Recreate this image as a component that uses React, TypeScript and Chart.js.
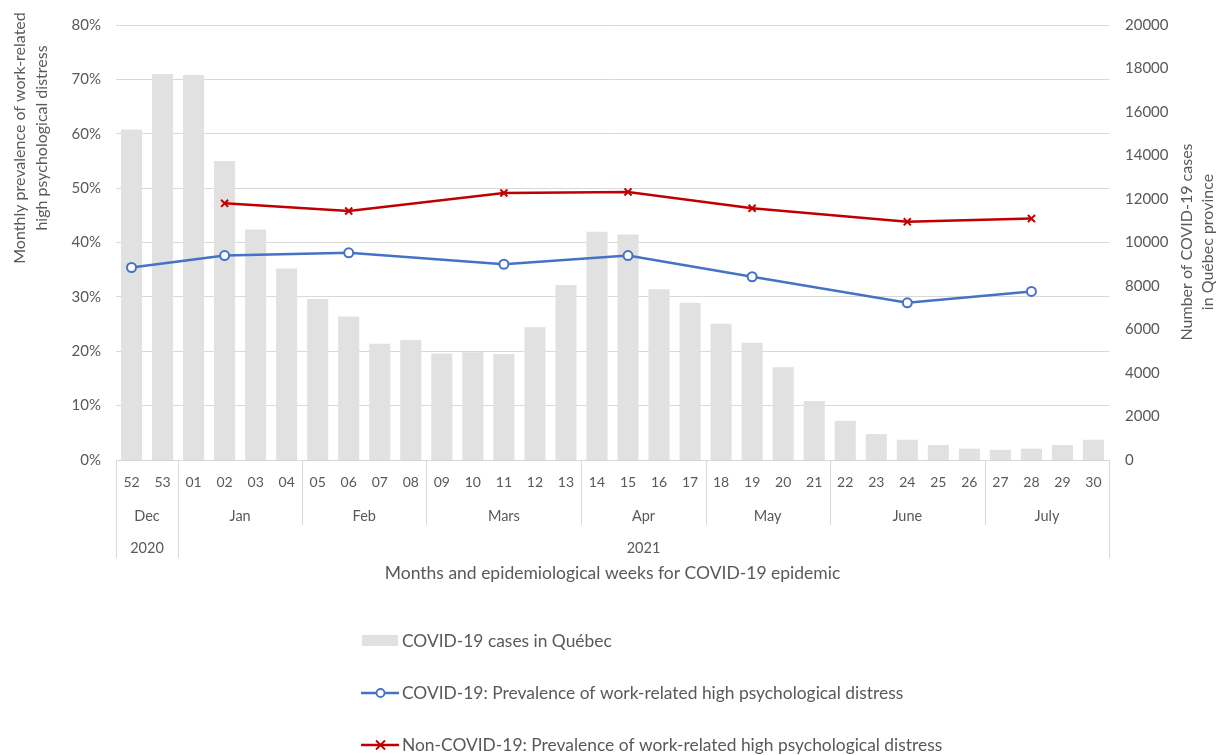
import React, { useEffect, useRef } from 'react';
import { Chart, registerables } from 'chart.js';

Chart.register(...registerables);

// ---------- data ----------
const weekLabels = ['52', '53', '01', '02', '03', '04', '05', '06', '07', '08', '09', '10', '11', '12', '13', '14', '15', '16', '17', '18', '19', '20', '21', '22', '23', '24', '25', '26', '27', '28', '29', '30'];
const monthLabels = ['Dec', 'Jan', 'Feb', 'Mars', 'Apr', 'May', 'June', 'July'];
const monthSpans = [2, 4, 4, 5, 4, 4, 5, 4];
const yearLabels = ['2020', '2021'];
const yearSpans = [2, 30];

const covidCases = [15200, 17750, 17700, 13750, 10600, 8800, 7400, 6600, 5350, 5520, 4900, 4950, 4870, 6100, 8050, 10500, 10370, 7850, 7230, 6270, 5390, 4260, 2710, 1800, 1190, 930, 690, 520, 470, 520, 690, 930];

const covidPrevalence = [35.4, null, null, 37.6, null, null, null, 38.1, null, null, null, null, 36.0, null, null, null, 37.6, null, null, null, 33.7, null, null, null, null, 28.9, null, null, null, 31.0, null, null];
const nonCovidPrevalence = [null, null, null, 47.2, null, null, null, 45.8, null, null, null, null, 49.1, null, null, null, 49.3, null, null, null, 46.3, null, null, null, null, 43.8, null, null, null, 44.4, null, null];

const leftTicksMax = 80;
const rightTicksMax = 20000;

const seriesNames = ['COVID-19 cases in Québec', 'COVID-19: Prevalence of work-related high psychological distress', 'Non-COVID-19: Prevalence of work-related high psychological distress'];
const leftTitle = ['Monthly prevalence of work-related', 'high psychological distress'];
const rightTitle = ['Number of COVID-19 cases', 'in Québec province'];
const xTitle = 'Months and epidemiological weeks for COVID-19 epidemic';

// ---------- style ----------
const FONT = 'Lato, "Open Sans", sans-serif';
const TEXT = '#595959';
const GRID = '#D9D9D9';
const BAR = '#E1E1E1';
const BLUE = '#4472C4';
const RED = '#C00000';

const decorPlugin = {
  id: 'decor',
  afterDraw(chart: any) {
    const ctx: CanvasRenderingContext2D = chart.ctx;
    const xs = chart.scales.x;
    const n = weekLabels.length;
    const w = (xs.right - xs.left) / n;
    const base = chart.chartArea.bottom;
    ctx.save();

    // separators
    ctx.strokeStyle = GRID;
    ctx.lineWidth = 1;
    const vline = (x: number, y0: number, y1: number) => {
      const xx = Math.round(x) + 0.5;
      ctx.beginPath();
      ctx.moveTo(xx, y0);
      ctx.lineTo(xx, y1);
      ctx.stroke();
    };
    const yearBounds: number[] = [0];
    yearSpans.reduce((a, s) => { yearBounds.push(a + s); return a + s; }, 0);
    const monthBounds: number[] = [0];
    monthSpans.reduce((a, s) => { monthBounds.push(a + s); return a + s; }, 0);
    monthBounds.forEach((b) => {
      if (!yearBounds.includes(b)) vline(xs.left + b * w, base, base + 65);
    });
    yearBounds.forEach((b) => vline(xs.left + b * w, base, base + 98));

    // category labels
    ctx.fillStyle = TEXT;
    ctx.textAlign = 'center';
    ctx.textBaseline = 'middle';
    ctx.font = `14px ${FONT}`;
    weekLabels.forEach((l, i) => ctx.fillText(l, xs.getPixelForValue(i), base + 22));
    ctx.font = `14.5px ${FONT}`;
    let start = 0;
    monthLabels.forEach((l, i) => {
      ctx.fillText(l, xs.left + (start + monthSpans[i] / 2) * w, base + 56);
      start += monthSpans[i];
    });
    start = 0;
    yearLabels.forEach((l, i) => {
      ctx.fillText(l, xs.left + (start + yearSpans[i] / 2) * w, base + 88);
      start += yearSpans[i];
    });

    // x title
    ctx.font = `17.5px ${FONT}`;
    ctx.fillText(xTitle, (xs.left + xs.right) / 2, base + 113);

    // y titles
    ctx.font = `16px ${FONT}`;
    const drawRot = (lines: string[], xsPos: number[], cy: number) => {
      lines.forEach((t, i) => {
        ctx.save();
        ctx.translate(xsPos[i], cy);
        ctx.rotate(-Math.PI / 2);
        ctx.fillText(t, 0, 0);
        ctx.restore();
      });
    };
    drawRot(leftTitle, [20, 42], 138);
    drawRot(rightTitle, [1187, 1208], 242);

    // legend
    ctx.font = `17.4px ${FONT}`;
    ctx.textAlign = 'left';
    const lx = 362;
    const tx = 402;
    const rows = [641, 693, 745];
    ctx.fillStyle = BAR;
    ctx.fillRect(lx, rows[0] - 6, 36, 11);
    ctx.fillStyle = TEXT;
    ctx.fillText(seriesNames[0], tx, rows[0]);

    ctx.lineWidth = 2.5;
    ctx.strokeStyle = BLUE;
    ctx.beginPath();
    ctx.moveTo(lx - 1, rows[1]);
    ctx.lineTo(lx + 37, rows[1]);
    ctx.stroke();
    ctx.beginPath();
    ctx.fillStyle = '#fff';
    ctx.lineWidth = 1.8;
    ctx.arc(lx + 18.5, rows[1], 4, 0, Math.PI * 2);
    ctx.fill();
    ctx.stroke();
    ctx.fillStyle = TEXT;
    ctx.fillText(seriesNames[1], tx, rows[1]);

    ctx.lineWidth = 2.5;
    ctx.strokeStyle = RED;
    ctx.beginPath();
    ctx.moveTo(lx - 1, rows[2]);
    ctx.lineTo(lx + 37, rows[2]);
    ctx.stroke();
    ctx.lineWidth = 1.8;
    const cx = lx + 18.5;
    const r = 4.5;
    ctx.beginPath();
    ctx.moveTo(cx - r, rows[2] - r);
    ctx.lineTo(cx + r, rows[2] + r);
    ctx.moveTo(cx + r, rows[2] - r);
    ctx.lineTo(cx - r, rows[2] + r);
    ctx.stroke();
    ctx.fillStyle = TEXT;
    ctx.fillText(seriesNames[2], tx, rows[2]);

    ctx.restore();
  },
};

export default function App() {
  const canvasRef = useRef<HTMLCanvasElement | null>(null);

  useEffect(() => {
    if (!canvasRef.current) return;
    const chart = new Chart(canvasRef.current, {
      type: 'bar',
      data: {
        labels: weekLabels,
        datasets: [
          {
            type: 'line',
            label: seriesNames[1],
            data: covidPrevalence,
            yAxisID: 'y',
            borderColor: BLUE,
            borderWidth: 2.5,
            pointStyle: 'circle',
            pointRadius: 4.5,
            pointBackgroundColor: '#FFFFFF',
            pointBorderColor: BLUE,
            pointBorderWidth: 2,
            spanGaps: true,
            tension: 0,
            order: 1,
          } as any,
          {
            type: 'line',
            label: seriesNames[2],
            data: nonCovidPrevalence,
            yAxisID: 'y',
            borderColor: RED,
            borderWidth: 2.5,
            pointStyle: 'crossRot',
            pointRadius: 5,
            pointBorderColor: RED,
            pointBorderWidth: 2,
            spanGaps: true,
            tension: 0,
            order: 1,
          } as any,
          {
            type: 'bar',
            label: seriesNames[0],
            data: covidCases,
            yAxisID: 'y1',
            backgroundColor: BAR,
            borderWidth: 0,
            categoryPercentage: 1,
            barPercentage: 0.68,
            order: 2,
          },
        ],
      },
      options: {
        animation: false,
        responsive: true,
        maintainAspectRatio: false,
        events: [],
        layout: { padding: { top: 22, left: 0, right: 0, bottom: 0 } },
        plugins: {
          legend: { display: false },
          tooltip: { enabled: false },
          title: { display: false },
        },
        scales: {
          x: {
            type: 'category',
            offset: true,
            grid: { display: false },
            border: { display: false },
            ticks: { display: false },
            afterFit: (s: any) => { s.height = 295; },
          },
          y: {
            position: 'left',
            min: 0,
            max: leftTicksMax,
            ticks: {
              stepSize: 10,
              padding: 15,
              color: TEXT,
              font: { family: FONT, size: 15 },
              callback: (v: any) => `${v}%`,
            },
            grid: { color: GRID, lineWidth: 1, drawTicks: false },
            border: { display: false },
            afterFit: (s: any) => { s.width = 116; },
          },
          y1: {
            position: 'right',
            min: 0,
            max: rightTicksMax,
            ticks: {
              stepSize: 2000,
              padding: 16,
              color: TEXT,
              font: { family: FONT, size: 15 },
              callback: (v: any) => String(v),
            },
            grid: { display: false, drawTicks: false },
            border: { display: false },
            afterFit: (s: any) => { s.width = 108; },
          },
        },
      },
      plugins: [decorPlugin],
    } as any);
    return () => chart.destroy();
  }, []);

  return (
    <div style={{ position: 'absolute', left: 0, top: 0, width: 1217, height: 755 }}>
      <canvas ref={canvasRef} />
    </div>
  );
}
